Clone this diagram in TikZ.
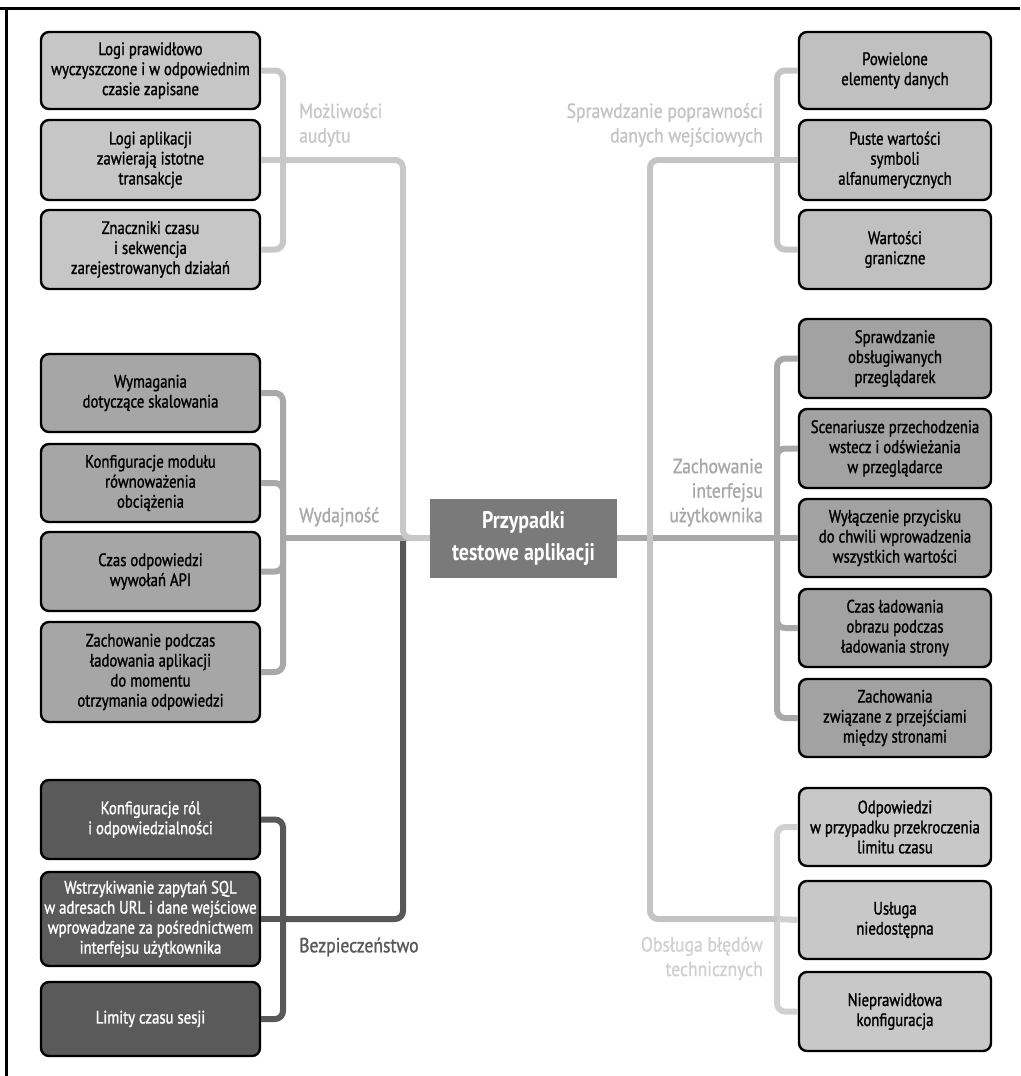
\documentclass[tikz,border=0pt]{standalone}
\usepackage{fontspec}
\setmainfont{PT Sans}[FakeStretch=0.83]
\newfontfamily\boxfont{PT Sans}[FakeStretch=0.82, FakeBold=1.3]
\newfontfamily\labfont{PT Sans}[FakeStretch=0.86, FakeBold=1.1]
\definecolor{audC}{HTML}{C8C8C8}
\definecolor{perfC}{HTML}{A8A8A8}
\definecolor{secC}{HTML}{585858}
\definecolor{valC}{HTML}{C4C4C4}
\definecolor{uiC}{HTML}{A8A8A8}
\definecolor{errC}{HTML}{D0D0D0}
\definecolor{audF}{HTML}{C6C6C6}
\definecolor{perfF}{HTML}{A6A6A6}
\definecolor{secF}{HTML}{5A5A5A}
\definecolor{valF}{HTML}{C0C0C0}
\definecolor{uiF}{HTML}{A2A2A2}
\definecolor{errF}{HTML}{C8C8C8}
\definecolor{cenF}{HTML}{7A7A7A}
\begin{document}
\begin{tikzpicture}[x=1pt,y=-1pt,
  box/.style={draw=black, line width=2.4pt, rounded corners=8pt, align=center,
    inner sep=0pt, font=\boxfont\fontsize{18}{20}\selectfont},
  lbox/.style={box, minimum width=219pt},
  rbox/.style={box, minimum width=192pt},
  conn/.style={line width=6pt, rounded corners=8pt},
  lab/.style={inner sep=0pt, font=\labfont\fontsize{20.5}{24.5}\selectfont}
]
\useasboundingbox (0,0) rectangle (1020,1076);
% frame
\draw[line width=3pt] (0,8) -- (1020,8);
\draw[line width=3pt] (6,6.5) -- (6,1076);

% ---- boxes left
\node[lbox, fill=audF, minimum height=77pt] (a1) at (150.5,70.5) {Logi prawidłowo\\wyczyszczone i w odpowiednim\\czasie zapisane};
\node[lbox, fill=audF, minimum height=80pt] (a2) at (150.5,160) {Logi aplikacji\\zawierają istotne\\transakcje};
\node[lbox, fill=audF, minimum height=79pt] (a3) at (150.5,249.5) {Znaczniki czasu\\i sekwencja\\zarejestrowanych działań};

\node[lbox, fill=perfF, minimum height=78pt] (p1) at (150.5,393) {Wymagania\\dotyczące skalowania};
\node[lbox, fill=perfF, minimum height=78pt] (p2) at (150.5,483) {Konfiguracje modułu\\równoważenia\\obciążenia};
\node[lbox, fill=perfF, minimum height=79pt] (p3) at (150.5,571.5) {Czas odpowiedzi\\wywołań API};
\node[lbox, fill=perfF, minimum height=100pt] (p4) at (150.5,672) {Zachowanie podczas\\ładowania aplikacji\\do momentu\\otrzymania odpowiedzi};

\node[lbox, fill=secF, text=white, minimum height=79pt] (s1) at (150.5,819.5) {Konfiguracje ról\\i odpowiedzialności};
\node[lbox, fill=secF, text=white, minimum height=94pt] (s2) at (150.5,919) {Wstrzykiwanie zapytań SQL\\w adresach URL i dane wejściowe\\wprowadzane za pośrednictwem\\interfejsu użytkownika};
\node[lbox, fill=secF, text=white, minimum height=74pt] (s3) at (150.5,1019) {Limity czasu sesji};

% ---- boxes right
\node[rbox, fill=valF, minimum height=77pt] (v1) at (895,70.5) {Powielone\\elementy danych};
\node[rbox, fill=valF, minimum height=80pt] (v2) at (895,160) {Puste wartości\\symboli\\alfanumerycznych};
\node[rbox, fill=valF, minimum height=79pt] (v3) at (895,249.5) {Wartości\\graniczne};

\node[rbox, fill=uiF, minimum height=79pt] (u1) at (895,358.5) {Sprawdzanie\\obsługiwanych\\przeglądarek};
\node[rbox, fill=uiF, minimum height=79pt] (u2) at (895,448.5) {Scenariusze przechodzenia\\wstecz i odświeżania\\w przeglądarce};
\node[rbox, fill=uiF, minimum height=78pt] (u3) at (895,538) {Wyłączenie przycisku\\do chwili wprowadzenia\\wszystkich wartości};
\node[rbox, fill=uiF, minimum height=78pt] (u4) at (895,628) {Czas ładowania\\obrazu podczas\\ładowania strony};
\node[rbox, fill=uiF, minimum height=78pt] (u5) at (895,718) {Zachowania\\związane z przejściami\\między stronami};

\node[rbox, fill=errF, minimum height=78pt] (e1) at (895,827) {Odpowiedzi\\w przypadku przekroczenia\\limitu czasu};
\node[rbox, fill=errF, minimum height=78pt] (e2) at (895,920) {Usługa\\niedostępna};
\node[rbox, fill=errF, minimum height=79pt] (e3) at (895,1011.5) {Nieprawidłowa\\konfiguracja};

% ---- center
\node[fill=cenF, text=white, minimum width=187pt, minimum height=79pt, inner sep=0pt,
  align=center, font=\fontsize{24}{32}\selectfont\bfseries] (c) at (523.5,538) {Przypadki\\testowe aplikacji};

% ---- junctions
\coordinate (aj) at (283,160);
\coordinate (acorner) at (403,160);
\coordinate (lcross) at (403,538);
\coordinate (pj) at (283,538);
\coordinate (sj) at (283,919);
\coordinate (scorner) at (403,919);
\coordinate (stop) at (403,541);
\coordinate (uj) at (777,538);
\coordinate (vj) at (777,160);
\coordinate (vcorner) at (650,160);
\coordinate (ecorner) at (650,919);
\coordinate (ej) at (777,919);

% ---- security
\draw[conn, secC] (s1.east) -| (sj);
\draw[conn, secC] (s3.east) -| (sj);
\draw[conn, secC] (s2.east) -- (sj);
\draw[conn, secC] (sj) -- (scorner) -- (stop);
% ---- performance
\draw[conn, perfC] (p1.east) -| (pj);
\draw[conn, perfC] (p2.east) -| (pj);
\draw[conn, perfC] (p3.east) -| (pj);
\draw[conn, perfC] (p4.east) -| (pj);
\draw[conn, perfC] (pj) -- (c.west);
% ---- audit
\draw[conn, audC] (a1.east) -| (aj);
\draw[conn, audC] (a3.east) -| (aj);
\draw[conn, audC] (a2.east) -- (aj);
\draw[conn, audC] (aj) -- (acorner) -- (lcross) -- (c.west);
% ---- UI
\draw[conn, uiC] (u1.west) -| (uj);
\draw[conn, uiC] (u2.west) -| (uj);
\draw[conn, uiC] (u4.west) -| (uj);
\draw[conn, uiC] (u5.west) -| (uj);
\draw[conn, uiC] (u3.west) -- (uj);
\draw[conn, uiC] (c.east) -- (uj);
% ---- validation / errors
\draw[conn, valC] (v1.west) -| (vj);
\draw[conn, valC] (v3.west) -| (vj);
\draw[conn, valC] (v2.west) -- (vj);
\draw[conn, errC] (e1.west) -| (ej);
\draw[conn, errC] (e3.west) -| (ej);
\draw[conn, errC] (e2.west) -- (ej);
\draw[conn, valC] (vj) -- (vcorner) -- (ecorner) -- (ej);

% ---- labels
\node[lab, anchor=west, align=left, text=audC] (la) at (299,125) {Możliwości\\audytu};
\node[lab, anchor=west, align=left, text=perfC] (lp) at (299,517) {Wydajność};
\node[lab, anchor=west, align=left, text=secC] (ls) at (299,947) {Bezpieczeństwo};
\node[lab, anchor=east, align=right, text=valC] (lv) at (763,125) {Sprawdzanie poprawności\\danych wejściowych};
\node[lab, anchor=east, align=right, text=uiC] (lu) at (763,492.5) {Zachowanie\\interfejsu\\użytkownika};
\node[lab, anchor=east, align=right, text=errC] (le) at (763,958.5) {Obsługa błędów\\technicznych};
\end{tikzpicture}
\end{document}
